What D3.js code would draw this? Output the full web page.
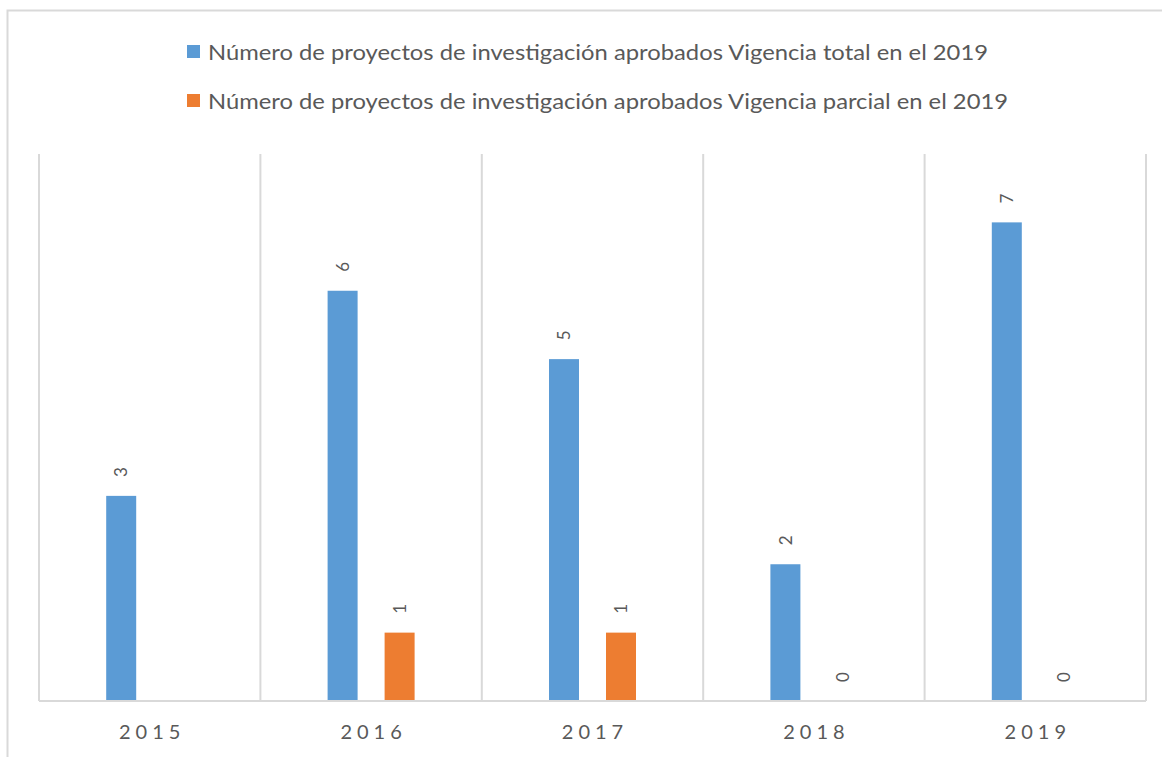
<!DOCTYPE html>
<html>
<head>
<meta charset="utf-8">
<script src="https://cdn.jsdelivr.net/npm/d3@7"></script>
<style>
  body { margin: 0; background: #fff; }
  text { font-family: Lato, "Open Sans", sans-serif; fill: #595959; }
</style>
</head>
<body>
<div id="chart"></div>
<script>
const WIDTH = 1162;
const HEIGHT = 757;
const MARGIN = { top: 154, left: 39, right: 16, bottom: 56 };

// data
const years = ["2015", "2016", "2017", "2018", "2019"];
const seriesKeys = ["total", "parcial"];
const seriesNames = [
  "Número de proyectos de investigación aprobados Vigencia total en el 2019",
  "Número de proyectos de investigación aprobados Vigencia parcial en el 2019"
];
const seriesColors = ["#5B9BD5", "#ED7D31"];
const totalValues = [3, 6, 5, 2, 7];
const parcialValues = [null, 1, 1, 0, 0];
const yDomain = [0, 8];

const rows = years.map((y, i) => ({ year: y, total: totalValues[i], parcial: parcialValues[i] }));

const svg = d3.select("#chart").append("svg")
  .attr("width", WIDTH)
  .attr("height", HEIGHT);

// outer chart-area border (only top & left visible in the crop)
svg.append("rect")
  .attr("x", 7.5)
  .attr("y", 10.5)
  .attr("width", WIDTH + 20)
  .attr("height", HEIGHT + 20)
  .attr("fill", "none")
  .attr("stroke", "#d9d9d9")
  .attr("stroke-width", 2);

const x0 = d3.scaleBand()
  .domain(years)
  .range([MARGIN.left, WIDTH - MARGIN.right])
  .paddingInner(0)
  .paddingOuter(0);

const x1 = d3.scaleBand()
  .domain(seriesKeys)
  .range([-43.5, 43.5])
  .paddingInner(27 / 57);

const y = d3.scaleLinear()
  .domain(yDomain)
  .range([HEIGHT - MARGIN.bottom, MARGIN.top]);

// vertical category separators
const edges = years.map(d => x0(d)).concat([x0.range()[1]]);
svg.append("g")
  .selectAll("line")
  .data(edges)
  .join("line")
    .attr("x1", d => d)
    .attr("x2", d => d)
    .attr("y1", y(yDomain[1]))
    .attr("y2", y(0))
    .attr("stroke", "#d9d9d9")
    .attr("stroke-width", 2);

// bars
const groups = svg.append("g")
  .selectAll("g")
  .data(rows)
  .join("g")
    .attr("transform", d => `translate(${x0(d.year) + x0.bandwidth() / 2},0)`);

const items = groups.selectAll("g")
  .data(d => seriesKeys.map((k, i) => ({ key: k, value: d[k], color: seriesColors[i] })).filter(e => e.value != null))
  .join("g");

items.append("rect")
  .attr("x", d => x1(d.key))
  .attr("width", x1.bandwidth())
  .attr("y", d => y(d.value))
  .attr("height", d => y(0) - y(d.value))
  .attr("fill", d => d.color);

items.append("text")
  .attr("transform", d => `translate(${x1(d.key) + x1.bandwidth() / 2},${y(d.value) - 19}) rotate(-90)`)
  .attr("dy", "0.36em")
  .attr("font-size", 17)
  .text(d => d.value);

// x axis baseline
svg.append("line")
  .attr("x1", x0.range()[0])
  .attr("x2", x0.range()[1])
  .attr("y1", y(0))
  .attr("y2", y(0))
  .attr("stroke", "#d9d9d9")
  .attr("stroke-width", 2);

// year labels
svg.append("g")
  .selectAll("text")
  .data(years)
  .join("text")
    .attr("x", d => x0(d) + x0.bandwidth() / 2 + 2.5)
    .attr("y", y(0) + 38)
    .attr("text-anchor", "middle")
    .attr("font-size", 20)
    .attr("letter-spacing", 5)
    .text(d => d);

// legend
const legend = svg.append("g")
  .attr("transform", "translate(187, 45)");

const legItems = legend.selectAll("g")
  .data(seriesNames)
  .join("g")
    .attr("transform", (d, i) => `translate(0, ${i * 49})`);

legItems.append("rect")
  .attr("width", 13)
  .attr("height", 13)
  .attr("fill", (d, i) => seriesColors[i]);

legItems.append("text")
  .attr("x", 21)
  .attr("y", 15)
  .attr("font-size", 21)
  .attr("textLength", (d, i) => [780, 800][i])
  .attr("lengthAdjust", "spacingAndGlyphs")
  .text(d => d);
</script>
</body>
</html>
